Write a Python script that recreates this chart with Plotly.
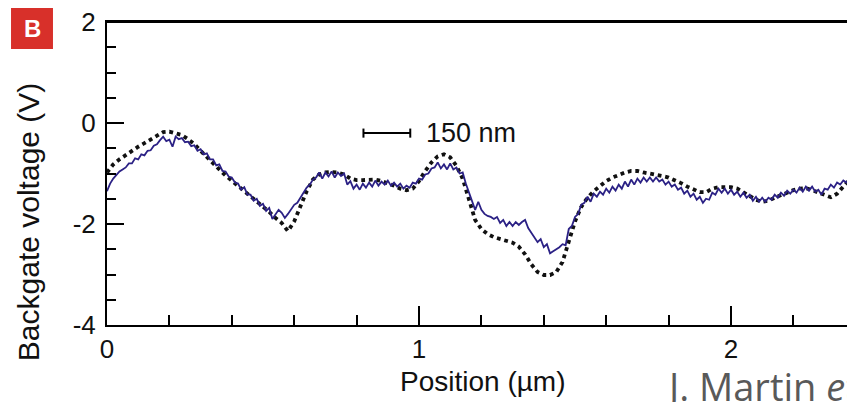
import plotly.graph_objects as go

# ---- data ----
measured_x = [round(i * 0.01, 2) for i in range(239)]
measured_v = [
    -1.35, -1.20, -1.10, -1.02, -0.96, -0.92, -0.88, -0.80, -0.80, -0.70,
    -0.72, -0.62, -0.64, -0.55, -0.54, -0.45, -0.42, -0.34, -0.27, -0.36,
    -0.33, -0.47, -0.27, -0.32, -0.30, -0.38, -0.37, -0.46, -0.44, -0.55,
    -0.52, -0.62, -0.60, -0.72, -0.72, -0.84, -0.82, -0.95, -0.96, -1.06,
    -1.08, -1.18, -1.20, -1.32, -1.27, -1.42, -1.42, -1.54, -1.50, -1.64,
    -1.60, -1.74, -1.68, -1.90, -1.82, -1.72, -1.78, -1.88, -1.80, -1.72,
    -1.62, -1.58, -1.48, -1.40, -1.28, -1.22, -1.12, -1.08, -0.98, -1.10,
    -0.98, -1.06, -0.96, -1.08, -0.98, -1.05, -1.00, -1.22, -1.15, -1.30,
    -1.22, -1.32, -1.20, -1.28, -1.18, -1.26, -1.14, -1.24, -1.16, -1.22,
    -1.14, -1.24, -1.18, -1.26, -1.20, -1.30, -1.24, -1.28, -1.18, -1.20,
    -1.10, -1.12, -1.02, -1.00, -0.90, -0.88, -0.78, -0.90, -0.82, -0.92,
    -0.80, -0.92, -0.88, -1.00, -0.98, -1.20, -1.36, -1.55, -1.72, -1.56,
    -1.72, -1.80, -1.84, -1.86, -1.90, -1.86, -1.98, -1.92, -2.04, -1.96,
    -2.04, -1.96, -2.02, -1.96, -1.92, -2.08, -2.18, -2.26, -2.36, -2.30,
    -2.46, -2.40, -2.58, -2.54, -2.50, -2.46, -2.40, -2.42, -2.10, -2.04,
    -1.86, -1.80, -1.62, -1.58, -1.46, -1.56, -1.40, -1.46, -1.36, -1.42,
    -1.30, -1.38, -1.26, -1.34, -1.22, -1.30, -1.16, -1.26, -1.12, -1.22,
    -1.10, -1.18, -1.08, -1.16, -1.08, -1.16, -1.08, -1.16, -1.12, -1.22,
    -1.16, -1.26, -1.22, -1.32, -1.28, -1.40, -1.34, -1.46, -1.40, -1.52,
    -1.46, -1.58, -1.50, -1.52, -1.38, -1.42, -1.30, -1.38, -1.30, -1.40,
    -1.32, -1.42, -1.36, -1.46, -1.38, -1.48, -1.42, -1.54, -1.46, -1.56,
    -1.48, -1.56, -1.48, -1.52, -1.42, -1.48, -1.38, -1.44, -1.34, -1.40,
    -1.32, -1.38, -1.28, -1.36, -1.26, -1.34, -1.26, -1.36, -1.32, -1.42,
    -1.30, -1.32, -1.22, -1.28, -1.18, -1.22, -1.14, -1.18, -1.10,
]

model_x = [round(i * 0.02, 2) for i in range(120)]
model_v = [
    -0.98, -0.82, -0.72, -0.63, -0.55, -0.47, -0.40, -0.32, -0.24, -0.18,
    -0.17, -0.20, -0.24, -0.32, -0.42, -0.55, -0.68, -0.80, -0.92, -1.04,
    -1.14, -1.25, -1.35, -1.45, -1.56, -1.66, -1.76, -1.88, -1.98, -2.14,
    -1.95, -1.65, -1.35, -1.12, -1.02, -0.98, -0.97, -0.98, -1.02, -1.10,
    -1.13, -1.13, -1.12, -1.12, -1.15, -1.19, -1.24, -1.30, -1.33, -1.30,
    -1.15, -0.95, -0.78, -0.66, -0.62, -0.68, -0.85, -1.10, -1.50, -1.92,
    -2.10, -2.20, -2.26, -2.30, -2.33, -2.37, -2.45, -2.60, -2.80, -2.95,
    -3.01, -3.01, -2.95, -2.75, -2.35, -1.95, -1.66, -1.48, -1.35, -1.24,
    -1.15, -1.08, -1.02, -0.98, -0.95, -0.95, -0.98, -1.00, -1.02, -1.05,
    -1.08, -1.13, -1.19, -1.26, -1.32, -1.37, -1.37, -1.30, -1.27, -1.27,
    -1.27, -1.30, -1.37, -1.45, -1.52, -1.56, -1.54, -1.48, -1.43, -1.37,
    -1.33, -1.30, -1.29, -1.33, -1.38, -1.44, -1.47, -1.40, -1.25, -1.12,
]

x_ticks = [0, 1, 2]
y_ticks = [-4, -2, 0, 2]

FONT = "Liberation Sans, Arial, sans-serif"

fig = go.Figure()
fig.add_trace(go.Scatter(
    x=model_x, y=model_v, mode="lines",
    line=dict(color="#111111", width=3.8, dash="dot"),
    showlegend=False,
))
fig.add_trace(go.Scatter(
    x=measured_x, y=measured_v, mode="lines",
    line=dict(color="#2b2185", width=1.8),
    showlegend=False,
))

fig.update_layout(
    width=847, height=402,
    margin=dict(l=107, r=0, t=22, b=77),
    paper_bgcolor="white", plot_bgcolor="white",
    font=dict(family=FONT, size=26, color="#111111"),
    xaxis=dict(
        range=[0, 740 / 312], tickvals=x_ticks, ticktext=[str(v) for v in x_ticks],
        showgrid=False, zeroline=False,
        showline=True, linewidth=2, linecolor="black", mirror=True,
        ticks="inside", ticklen=19, tickwidth=2, tickcolor="black",
        minor=dict(dtick=0.2, tick0=0, ticks="inside", ticklen=10, tickwidth=2, tickcolor="black"),
        tickfont=dict(size=26, family=FONT),
    ),
    yaxis=dict(
        range=[-4, 2], tickvals=y_ticks, ticktext=[str(v) for v in y_ticks],
        showgrid=False, zeroline=False,
        showline=True, linewidth=2, linecolor="black",
        ticks="inside", ticklen=17, tickwidth=2, tickcolor="black",
        minor=dict(dtick=0.5, tick0=0, ticks="inside", ticklen=9, tickwidth=2, tickcolor="black"),
        tickfont=dict(size=26, family=FONT),
        ticklabelstandoff=4,
    ),
)

# top frame line
fig.add_shape(type="line", xref="paper", yref="paper", x0=0, x1=1, y0=1, y1=1,
              line=dict(color="black", width=2), layer="above")

# scale bar (150 nm = 0.15 um)
bar_y = -0.2
bar_x0, bar_x1 = 0.822, 0.972
fig.add_shape(type="line", xref="x", yref="y", x0=bar_x0, x1=bar_x1, y0=bar_y, y1=bar_y,
              line=dict(color="black", width=2))
for bx in (bar_x0, bar_x1):
    fig.add_shape(type="line", xref="x", yref="y", x0=bx, x1=bx, y0=bar_y - 0.09, y1=bar_y + 0.09,
                  line=dict(color="black", width=2))
fig.add_annotation(x=1.015, y=bar_y, xref="x", yref="y", text="150 nm", showarrow=False,
                   xanchor="left", yanchor="middle", font=dict(size=27, family=FONT, color="#111111"))

# axis titles
fig.add_annotation(x=-0.106, y=0.338, xref="paper", yref="paper", text="Backgate voltage (V)",
                   showarrow=False, textangle=-90, xanchor="center", yanchor="middle",
                   font=dict(size=30, family=FONT, color="#111111"))
fig.add_annotation(x=0.508, y=-0.185, xref="paper", yref="paper", text="Position (µm)",
                   showarrow=False, xanchor="center", yanchor="middle",
                   font=dict(size=28, family=FONT, color="#111111"))

# panel label
fig.add_shape(type="rect", xref="paper", yref="paper", x0=-0.1297, x1=-0.073, y0=0.911, y1=1.046,
              fillcolor="#d8302a", line=dict(width=0))
fig.add_annotation(x=-0.1013, y=0.980, xref="paper", yref="paper", text="<b>B</b>", showarrow=False,
                   xanchor="center", yanchor="middle", font=dict(size=24, family=FONT, color="white"))

# citation
fig.add_annotation(x=0.751, y=-0.20, xref="paper", yref="paper", text="J. Martin <i>et al.</i>",
                   showarrow=False, xanchor="left", yanchor="middle",
                   font=dict(size=38, family="Open Sans, sans-serif", color="#595959"))

# remove the default page margin so the figure fills the window exactly
fig.write_html("out.html", config={"displayModeBar": False},
               post_script="document.body.style.margin='0';document.body.style.overflow='hidden';")
